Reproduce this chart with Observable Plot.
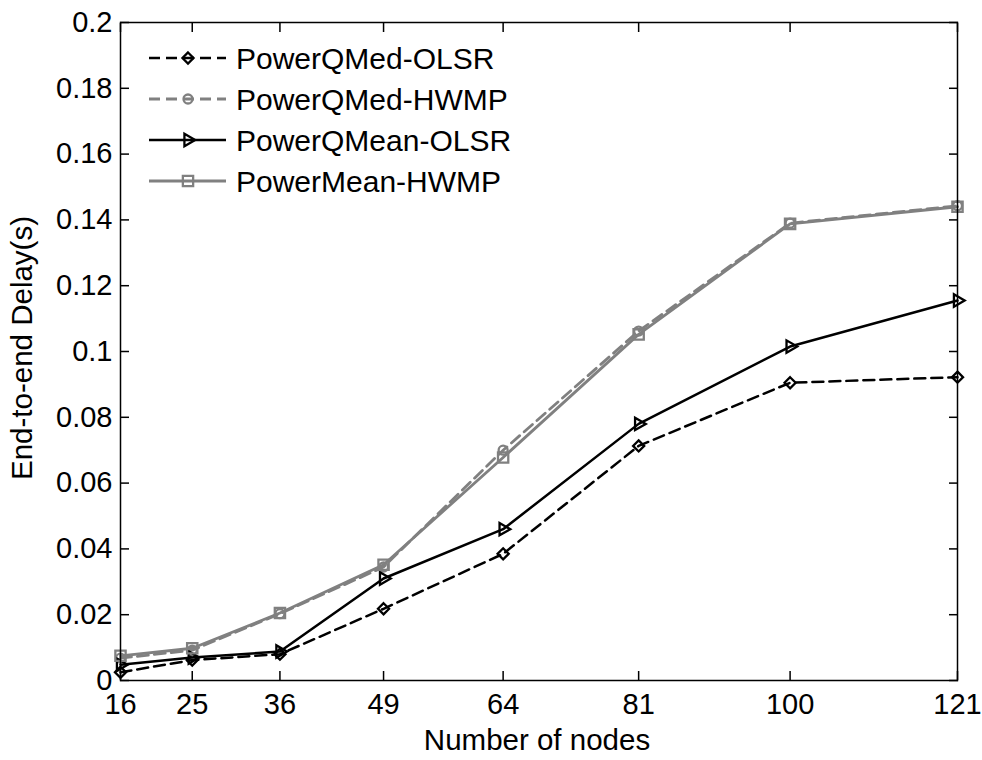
<!DOCTYPE html>
<html><head><meta charset="utf-8">
<script src="https://cdn.jsdelivr.net/npm/d3@7"></script>
<script src="https://cdn.jsdelivr.net/npm/@observablehq/plot@0.6"></script>
<style>
body{margin:0;background:#fff;}
#wrap{position:relative;width:982px;height:760px;font-family:"Liberation Sans",Arial,sans-serif;}
#overlay{position:absolute;left:0;top:0;pointer-events:none;}
</style></head><body><div id="wrap"></div>
<script>
// ---- data ----
const nodes = [16, 25, 36, 49, 64, 81, 100, 121];
const seriesNames = ["PowerQMed-OLSR", "PowerQMed-HWMP", "PowerQMean-OLSR", "PowerMean-HWMP"];
const qmedOlsr  = [0.0025, 0.0062, 0.0080, 0.0218, 0.0385, 0.0713, 0.0905, 0.0922];
const qmedHwmp  = [0.0068, 0.0092, 0.0203, 0.0345, 0.0700, 0.1062, 0.1390, 0.1443];
const qmeanOlsr = [0.0048, 0.0070, 0.0088, 0.0310, 0.0460, 0.0780, 0.1015, 0.1155];
const meanHwmp  = [0.0075, 0.0098, 0.0205, 0.0352, 0.0678, 0.1052, 0.1388, 0.1440];
const yTicks = [0, 0.02, 0.04, 0.06, 0.08, 0.1, 0.12, 0.14, 0.16, 0.18, 0.2];
const xTitle = "Number of nodes";
const yTitle = "End-to-end Delay(s)";

// ---- styles ----
const seriesValues = [qmedOlsr, qmedHwmp, qmeanOlsr, meanHwmp];
const styles = [
  {color: "#000", dash: "11,6", symbol: "diamond2", r: 5, rotate: 0, width: 2.5},
  {color: "#808080", dash: "11,6", symbol: "circle", r: 4.5, rotate: 0, width: 2.8},
  {color: "#000", dash: null, symbol: "triangle", r: 4.6, rotate: 90, width: 2.5},
  {color: "#808080", dash: null, symbol: "square", r: 5.8, rotate: 0, width: 2.8}
];
const FONT = '"Liberation Sans", Arial, sans-serif';

const tables = seriesValues.map((vals, s) => nodes.map((n, i) => ({n, v: vals[i], name: seriesNames[s]})));

const marks = [];
tables.forEach((rows, s) => {
  const st = styles[s];
  marks.push(Plot.line(rows, {x: "n", y: "v", stroke: st.color, strokeWidth: st.width, strokeDasharray: st.dash || undefined}));
  marks.push(Plot.dot(rows, {x: "n", y: "v", symbol: st.symbol, r: st.r, rotate: st.rotate, stroke: st.color, fill: "none", strokeWidth: 2.3}));
});

const chart = Plot.plot({
  width: 982, height: 760,
  marginLeft: 120, marginRight: 25, marginTop: 22, marginBottom: 80,
  style: {fontSize: "29px", fontFamily: FONT, color: "#000", background: "#fff"},
  x: {type: "linear", domain: [16, 121]},
  y: {domain: [0, 0.2]},
  marks: [
    Plot.axisY(yTicks, {anchor: "left", tickSize: 0, tickPadding: 8, label: null, tickFormat: d => String(+d.toFixed(2))}),
    Plot.axisY(yTicks, {anchor: "left", tickSize: -9, label: null, tickFormat: () => "", strokeWidth: 1.5}),
    Plot.axisY(yTicks, {anchor: "right", tickSize: -9, label: null, tickFormat: () => "", strokeWidth: 1.5}),
    Plot.axisX(nodes, {anchor: "bottom", tickSize: 0, tickPadding: 13, label: null, tickFormat: d => String(d)}),
    Plot.axisX(nodes, {anchor: "bottom", tickSize: -9, label: null, tickFormat: () => "", strokeWidth: 1.5}),
    Plot.axisX(nodes, {anchor: "top", tickSize: -9, label: null, tickFormat: () => "", strokeWidth: 1.5}),
    ...marks,
    Plot.frame({stroke: "#000", strokeWidth: 1.5})
  ]
});
const wrap = document.getElementById("wrap");
wrap.appendChild(chart);

// ---- overlay: axis titles and legend ----
const ov = d3.select(wrap).append("svg").attr("id", "overlay").attr("width", 982).attr("height", 760)
  .style("font-family", FONT);
ov.append("text").attr("x", 537).attr("y", 750).attr("text-anchor", "middle")
  .attr("font-size", 29.5).attr("fill", "#000").text(xTitle);
ov.append("text").attr("transform", "translate(32,348) rotate(-90)").attr("text-anchor", "middle")
  .attr("font-size", 29.5).attr("fill", "#000").text(yTitle);

const symMap = {diamond2: d3.symbolDiamond2, circle: d3.symbolCircle, triangle: d3.symbolTriangle, square: d3.symbolSquare};
const leg = ov.append("g");
seriesNames.forEach((name, i) => {
  const st = styles[i];
  const y = 58 + i * 41;
  const g = leg.append("g").attr("transform", `translate(0,${y})`);
  g.append("line").attr("x1", 149).attr("x2", 226).attr("y1", 0).attr("y2", 0)
    .attr("stroke", st.color).attr("stroke-width", st.width).attr("stroke-dasharray", st.dash);
  g.append("path").attr("d", d3.symbol(symMap[st.symbol], Math.PI * st.r * st.r)())
    .attr("transform", `translate(188,0) rotate(${st.rotate})`)
    .attr("fill", "none").attr("stroke", st.color).attr("stroke-width", 2.3);
  g.append("text").attr("x", 236).attr("y", 0).attr("dy", "0.36em").attr("font-size", 30)
    .attr("fill", "#000").text(name);
});
</script></body></html>
